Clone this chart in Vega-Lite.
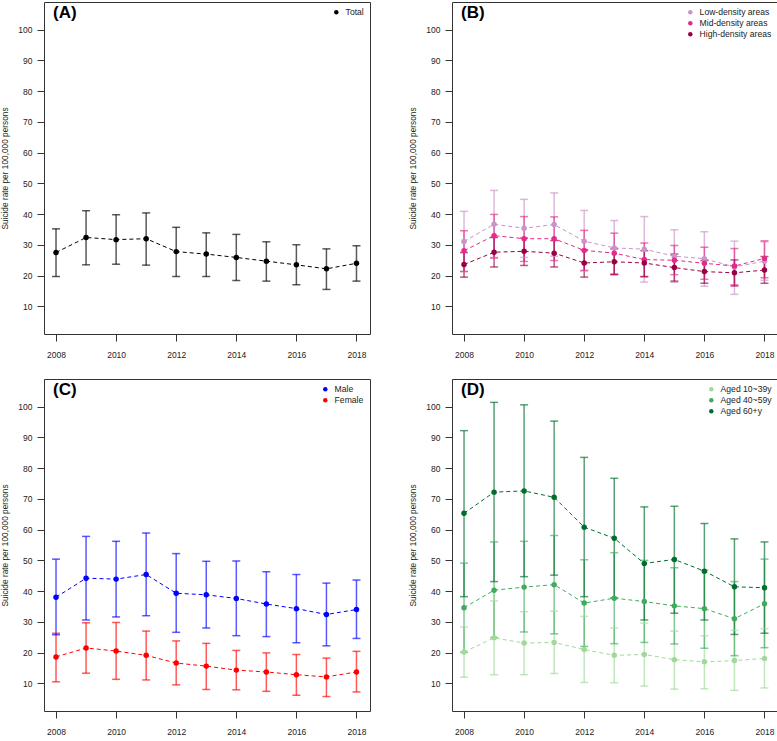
{
  "$schema": "https://vega.github.io/schema/vega-lite/v6.json",
  "description": "Suicide rate per 100,000 persons, 2008-2018, by total, area density, sex and age group, with 95% intervals.",
  "padding": {"left": 0, "top": 1, "right": 0, "bottom": 0},
  "background": "white",
  "config": {
    "font": "Liberation Sans",
    "view": {"stroke": "#333333", "strokeWidth": 1},
    "axis": {
      "domain": false,
      "grid": false,
      "ticks": true,
      "tickSize": 7,
      "tickColor": "#333333",
      "labelColor": "#222222",
      "labelFontSize": 8.5,
      "titleFontSize": 8.3,
      "titleFontWeight": "normal",
      "titleColor": "#222222"
    },
    "axisX": {"labelPadding": 9, "format": "d", "labelFlush": false},
    "axisY": {"labelPadding": 5, "titlePadding": 8},
    "legend": {
      "orient": "top-right",
      "offset": 6,
      "padding": 0,
      "title": null,
      "labelFontSize": 8.6,
      "labelColor": "#222222",
      "symbolType": "circle",
      "symbolSize": 20,
      "symbolStrokeWidth": 0,
      "symbolOpacity": 1,
      "rowPadding": 2,
      "labelOffset": 5
    },
    "title": {
      "anchor": "start",
      "frame": "group",
      "fontSize": 17,
      "fontWeight": "bold",
      "color": "#000000",
      "offset": -20,
      "dx": 9
    }
  },
  "data": {
    "values": [
      {"panel": "A", "group": "Total", "year": 2008, "rate": 27.5, "lo": 19.7, "hi": 35.2},
      {"panel": "A", "group": "Total", "year": 2009, "rate": 32.4, "lo": 23.5, "hi": 41.1},
      {"panel": "A", "group": "Total", "year": 2010, "rate": 31.7, "lo": 23.7, "hi": 39.8},
      {"panel": "A", "group": "Total", "year": 2011, "rate": 32.0, "lo": 23.4, "hi": 40.4},
      {"panel": "A", "group": "Total", "year": 2012, "rate": 27.8, "lo": 19.7, "hi": 35.7},
      {"panel": "A", "group": "Total", "year": 2013, "rate": 27.0, "lo": 19.7, "hi": 33.9},
      {"panel": "A", "group": "Total", "year": 2014, "rate": 25.9, "lo": 18.4, "hi": 33.4},
      {"panel": "A", "group": "Total", "year": 2015, "rate": 24.7, "lo": 18.2, "hi": 31.0},
      {"panel": "A", "group": "Total", "year": 2016, "rate": 23.5, "lo": 17.0, "hi": 30.0},
      {"panel": "A", "group": "Total", "year": 2017, "rate": 22.2, "lo": 15.5, "hi": 28.7},
      {"panel": "A", "group": "Total", "year": 2018, "rate": 24.0, "lo": 18.2, "hi": 29.7},

      {"panel": "B", "group": "Low-density areas", "year": 2008, "rate": 31.1, "lo": 21.4, "hi": 40.9},
      {"panel": "B", "group": "Low-density areas", "year": 2009, "rate": 36.7, "lo": 25.9, "hi": 47.7},
      {"panel": "B", "group": "Low-density areas", "year": 2010, "rate": 35.4, "lo": 25.9, "hi": 44.8},
      {"panel": "B", "group": "Low-density areas", "year": 2011, "rate": 36.6, "lo": 26.3, "hi": 46.9},
      {"panel": "B", "group": "Low-density areas", "year": 2012, "rate": 31.2, "lo": 21.5, "hi": 41.2},
      {"panel": "B", "group": "Low-density areas", "year": 2013, "rate": 29.0, "lo": 20.2, "hi": 37.9},
      {"panel": "B", "group": "Low-density areas", "year": 2014, "rate": 28.6, "lo": 17.9, "hi": 39.2},
      {"panel": "B", "group": "Low-density areas", "year": 2015, "rate": 26.3, "lo": 17.8, "hi": 34.9},
      {"panel": "B", "group": "Low-density areas", "year": 2016, "rate": 25.5, "lo": 16.5, "hi": 34.3},
      {"panel": "B", "group": "Low-density areas", "year": 2017, "rate": 22.8, "lo": 13.9, "hi": 31.2},
      {"panel": "B", "group": "Low-density areas", "year": 2018, "rate": 24.7, "lo": 18.5, "hi": 31.0},
      {"panel": "B", "group": "Mid-density areas", "year": 2008, "rate": 28.1, "lo": 21.3, "hi": 34.6},
      {"panel": "B", "group": "Mid-density areas", "year": 2009, "rate": 33.0, "lo": 25.7, "hi": 39.9},
      {"panel": "B", "group": "Mid-density areas", "year": 2010, "rate": 32.0, "lo": 24.6, "hi": 39.2},
      {"panel": "B", "group": "Mid-density areas", "year": 2011, "rate": 32.0, "lo": 24.9, "hi": 39.1},
      {"panel": "B", "group": "Mid-density areas", "year": 2012, "rate": 28.2, "lo": 21.7, "hi": 34.7},
      {"panel": "B", "group": "Mid-density areas", "year": 2013, "rate": 27.3, "lo": 20.4, "hi": 33.8},
      {"panel": "B", "group": "Mid-density areas", "year": 2014, "rate": 25.2, "lo": 19.6, "hi": 30.6},
      {"panel": "B", "group": "Mid-density areas", "year": 2015, "rate": 25.0, "lo": 20.3, "hi": 29.8},
      {"panel": "B", "group": "Mid-density areas", "year": 2016, "rate": 24.0, "lo": 18.8, "hi": 29.2},
      {"panel": "B", "group": "Mid-density areas", "year": 2017, "rate": 23.1, "lo": 17.0, "hi": 28.8},
      {"panel": "B", "group": "Mid-density areas", "year": 2018, "rate": 25.6, "lo": 19.3, "hi": 31.3},
      {"panel": "B", "group": "High-density areas", "year": 2008, "rate": 23.6, "lo": 19.5, "hi": 27.5},
      {"panel": "B", "group": "High-density areas", "year": 2009, "rate": 27.6, "lo": 22.8, "hi": 32.4},
      {"panel": "B", "group": "High-density areas", "year": 2010, "rate": 27.9, "lo": 23.3, "hi": 32.2},
      {"panel": "B", "group": "High-density areas", "year": 2011, "rate": 27.3, "lo": 22.8, "hi": 31.4},
      {"panel": "B", "group": "High-density areas", "year": 2012, "rate": 24.1, "lo": 19.5, "hi": 28.4},
      {"panel": "B", "group": "High-density areas", "year": 2013, "rate": 24.5, "lo": 20.4, "hi": 28.7},
      {"panel": "B", "group": "High-density areas", "year": 2014, "rate": 24.1, "lo": 19.7, "hi": 28.1},
      {"panel": "B", "group": "High-density areas", "year": 2015, "rate": 22.6, "lo": 18.2, "hi": 27.0},
      {"panel": "B", "group": "High-density areas", "year": 2016, "rate": 21.3, "lo": 17.5, "hi": 24.9},
      {"panel": "B", "group": "High-density areas", "year": 2017, "rate": 20.9, "lo": 16.6, "hi": 25.1},
      {"panel": "B", "group": "High-density areas", "year": 2018, "rate": 21.8, "lo": 17.5, "hi": 26.2},

      {"panel": "C", "group": "Male", "year": 2008, "rate": 38.0, "lo": 25.8, "hi": 50.4},
      {"panel": "C", "group": "Male", "year": 2009, "rate": 44.2, "lo": 30.6, "hi": 57.8},
      {"panel": "C", "group": "Male", "year": 2010, "rate": 43.9, "lo": 31.6, "hi": 56.2},
      {"panel": "C", "group": "Male", "year": 2011, "rate": 45.4, "lo": 32.0, "hi": 58.9},
      {"panel": "C", "group": "Male", "year": 2012, "rate": 39.3, "lo": 26.6, "hi": 52.2},
      {"panel": "C", "group": "Male", "year": 2013, "rate": 38.8, "lo": 28.0, "hi": 49.7},
      {"panel": "C", "group": "Male", "year": 2014, "rate": 37.6, "lo": 25.5, "hi": 49.8},
      {"panel": "C", "group": "Male", "year": 2015, "rate": 35.8, "lo": 25.2, "hi": 46.3},
      {"panel": "C", "group": "Male", "year": 2016, "rate": 34.3, "lo": 23.2, "hi": 45.4},
      {"panel": "C", "group": "Male", "year": 2017, "rate": 32.4, "lo": 22.2, "hi": 42.6},
      {"panel": "C", "group": "Male", "year": 2018, "rate": 34.0, "lo": 24.6, "hi": 43.6},
      {"panel": "C", "group": "Female", "year": 2008, "rate": 18.6, "lo": 10.5, "hi": 26.3},
      {"panel": "C", "group": "Female", "year": 2009, "rate": 21.5, "lo": 13.3, "hi": 29.7},
      {"panel": "C", "group": "Female", "year": 2010, "rate": 20.5, "lo": 11.3, "hi": 29.8},
      {"panel": "C", "group": "Female", "year": 2011, "rate": 19.1, "lo": 11.1, "hi": 27.0},
      {"panel": "C", "group": "Female", "year": 2012, "rate": 16.6, "lo": 9.5, "hi": 23.8},
      {"panel": "C", "group": "Female", "year": 2013, "rate": 15.6, "lo": 8.0, "hi": 23.0},
      {"panel": "C", "group": "Female", "year": 2014, "rate": 14.3, "lo": 7.9, "hi": 20.7},
      {"panel": "C", "group": "Female", "year": 2015, "rate": 13.7, "lo": 7.4, "hi": 19.9},
      {"panel": "C", "group": "Female", "year": 2016, "rate": 12.8, "lo": 6.1, "hi": 19.4},
      {"panel": "C", "group": "Female", "year": 2017, "rate": 12.1, "lo": 5.7, "hi": 18.2},
      {"panel": "C", "group": "Female", "year": 2018, "rate": 13.7, "lo": 7.2, "hi": 20.4},

      {"panel": "D", "group": "Aged 10~39y", "year": 2008, "rate": 20.2, "lo": 12.0, "hi": 28.3},
      {"panel": "D", "group": "Aged 10~39y", "year": 2009, "rate": 24.8, "lo": 12.8, "hi": 36.8},
      {"panel": "D", "group": "Aged 10~39y", "year": 2010, "rate": 23.1, "lo": 12.8, "hi": 33.3},
      {"panel": "D", "group": "Aged 10~39y", "year": 2011, "rate": 23.3, "lo": 13.2, "hi": 33.5},
      {"panel": "D", "group": "Aged 10~39y", "year": 2012, "rate": 21.0, "lo": 10.3, "hi": 31.8},
      {"panel": "D", "group": "Aged 10~39y", "year": 2013, "rate": 19.1, "lo": 10.2, "hi": 28.0},
      {"panel": "D", "group": "Aged 10~39y", "year": 2014, "rate": 19.4, "lo": 9.1, "hi": 29.6},
      {"panel": "D", "group": "Aged 10~39y", "year": 2015, "rate": 17.7, "lo": 8.1, "hi": 27.0},
      {"panel": "D", "group": "Aged 10~39y", "year": 2016, "rate": 17.0, "lo": 8.2, "hi": 25.5},
      {"panel": "D", "group": "Aged 10~39y", "year": 2017, "rate": 17.4, "lo": 7.7, "hi": 27.2},
      {"panel": "D", "group": "Aged 10~39y", "year": 2018, "rate": 18.1, "lo": 8.5, "hi": 27.8},
      {"panel": "D", "group": "Aged 40~59y", "year": 2008, "rate": 34.6, "lo": 20.1, "hi": 49.1},
      {"panel": "D", "group": "Aged 40~59y", "year": 2009, "rate": 40.3, "lo": 24.9, "hi": 56.0},
      {"panel": "D", "group": "Aged 40~59y", "year": 2010, "rate": 41.3, "lo": 26.7, "hi": 56.2},
      {"panel": "D", "group": "Aged 40~59y", "year": 2011, "rate": 42.1, "lo": 26.1, "hi": 58.1},
      {"panel": "D", "group": "Aged 40~59y", "year": 2012, "rate": 36.1, "lo": 22.0, "hi": 50.2},
      {"panel": "D", "group": "Aged 40~59y", "year": 2013, "rate": 37.7, "lo": 22.9, "hi": 52.5},
      {"panel": "D", "group": "Aged 40~59y", "year": 2014, "rate": 36.6, "lo": 23.3, "hi": 50.0},
      {"panel": "D", "group": "Aged 40~59y", "year": 2015, "rate": 35.2, "lo": 22.8, "hi": 47.6},
      {"panel": "D", "group": "Aged 40~59y", "year": 2016, "rate": 34.3, "lo": 21.4, "hi": 46.8},
      {"panel": "D", "group": "Aged 40~59y", "year": 2017, "rate": 31.0, "lo": 19.0, "hi": 43.1},
      {"panel": "D", "group": "Aged 40~59y", "year": 2018, "rate": 35.9, "lo": 21.6, "hi": 50.4},
      {"panel": "D", "group": "Aged 60+y", "year": 2008, "rate": 65.3, "lo": 38.2, "hi": 92.2},
      {"panel": "D", "group": "Aged 60+y", "year": 2009, "rate": 72.2, "lo": 43.1, "hi": 101.4},
      {"panel": "D", "group": "Aged 60+y", "year": 2010, "rate": 72.6, "lo": 44.7, "hi": 100.6},
      {"panel": "D", "group": "Aged 60+y", "year": 2011, "rate": 70.5, "lo": 45.2, "hi": 95.3},
      {"panel": "D", "group": "Aged 60+y", "year": 2012, "rate": 60.8, "lo": 38.2, "hi": 83.5},
      {"panel": "D", "group": "Aged 60+y", "year": 2013, "rate": 57.2, "lo": 37.8, "hi": 76.7},
      {"panel": "D", "group": "Aged 60+y", "year": 2014, "rate": 49.0, "lo": 30.6, "hi": 67.4},
      {"panel": "D", "group": "Aged 60+y", "year": 2015, "rate": 50.3, "lo": 32.8, "hi": 67.6},
      {"panel": "D", "group": "Aged 60+y", "year": 2016, "rate": 46.5, "lo": 30.6, "hi": 62.0},
      {"panel": "D", "group": "Aged 60+y", "year": 2017, "rate": 41.4, "lo": 25.9, "hi": 57.0},
      {"panel": "D", "group": "Aged 60+y", "year": 2018, "rate": 41.1, "lo": 26.3, "hi": 56.0}
    ]
  },
  "columns": 2,
  "spacing": {"row": 19, "column": 37},
  "resolve": {
    "scale": {"color": "independent", "xOffset": "independent"},
    "legend": {"color": "independent"}
  },
  "concat": [
    {
      "width": 326,
      "height": 332,
      "title": "(A)",
      "transform": [{"filter": "datum.panel === 'A'"}],
      "encoding": {
        "x": {"field": "year", "type": "quantitative", "title": null,
              "scale": {"domain": [2007.6, 2018.45], "nice": false, "zero": false},
              "axis": {"values": [2008, 2010, 2012, 2014, 2016, 2018]}},
        "color": {"field": "group", "type": "nominal",
                  "scale": {"domain": ["Total"], "range": ["#000000"]}}
      },
      "layer": [
        {"mark": {"type": "rule", "strokeWidth": 1.5, "opacity": 0.65},
         "encoding": {"y": {"field": "lo", "type": "quantitative", "title": "Suicide rate per 100,000 persons", "scale": {"domain": [1, 109], "nice": false, "zero": false}}, "y2": {"field": "hi"}}},
        {"mark": {"type": "tick", "orient": "horizontal", "size": 8, "thickness": 1.5, "opacity": 0.65},
         "encoding": {"y": {"field": "lo", "type": "quantitative", "title": "Suicide rate per 100,000 persons"}}},
        {"mark": {"type": "tick", "orient": "horizontal", "size": 8, "thickness": 1.5, "opacity": 0.65},
         "encoding": {"y": {"field": "hi", "type": "quantitative", "title": "Suicide rate per 100,000 persons"}}},
        {"mark": {"type": "line", "strokeDash": [4, 3], "strokeWidth": 1},
         "encoding": {"y": {"field": "rate", "type": "quantitative", "title": "Suicide rate per 100,000 persons"}}},
        {"mark": {"type": "point", "filled": true, "size": 30, "opacity": 1},
         "encoding": {"y": {"field": "rate", "type": "quantitative", "title": "Suicide rate per 100,000 persons"}}}
      ]
    },
    {
      "width": 326,
      "height": 332,
      "title": "(B)",
      "transform": [{"filter": "datum.panel === 'B'"}],
      "encoding": {
        "x": {"field": "year", "type": "quantitative", "title": null,
              "scale": {"domain": [2007.6, 2018.45], "nice": false, "zero": false},
              "axis": {"values": [2008, 2010, 2012, 2014, 2016, 2018]}},
        "xOffset": {"field": "group", "type": "nominal",
                    "scale": {"type": "point", "domain": ["Low-density areas", "Mid-density areas", "High-density areas"], "range": [-3.5, 3.5], "padding": 0}},
        "color": {"field": "group", "type": "nominal",
                  "scale": {"domain": ["Low-density areas", "Mid-density areas", "High-density areas"], "range": ["#c994c7", "#e7298a", "#980043"]}}
      },
      "layer": [
        {"mark": {"type": "rule", "strokeWidth": 1.5, "opacity": 0.65},
         "encoding": {"y": {"field": "lo", "type": "quantitative", "title": "Suicide rate per 100,000 persons", "scale": {"domain": [1, 109], "nice": false, "zero": false}}, "y2": {"field": "hi"}}},
        {"mark": {"type": "tick", "orient": "horizontal", "size": 8, "thickness": 1.5, "opacity": 0.65},
         "encoding": {"y": {"field": "lo", "type": "quantitative", "title": "Suicide rate per 100,000 persons"}}},
        {"mark": {"type": "tick", "orient": "horizontal", "size": 8, "thickness": 1.5, "opacity": 0.65},
         "encoding": {"y": {"field": "hi", "type": "quantitative", "title": "Suicide rate per 100,000 persons"}}},
        {"mark": {"type": "line", "strokeDash": [4, 3], "strokeWidth": 1},
         "encoding": {"y": {"field": "rate", "type": "quantitative", "title": "Suicide rate per 100,000 persons"}}},
        {"mark": {"type": "point", "filled": true, "size": 30, "opacity": 1},
         "encoding": {"y": {"field": "rate", "type": "quantitative", "title": "Suicide rate per 100,000 persons"}}}
      ]
    },
    {
      "width": 326,
      "height": 332,
      "title": "(C)",
      "transform": [{"filter": "datum.panel === 'C'"}],
      "encoding": {
        "x": {"field": "year", "type": "quantitative", "title": null,
              "scale": {"domain": [2007.6, 2018.45], "nice": false, "zero": false},
              "axis": {"values": [2008, 2010, 2012, 2014, 2016, 2018]}},
        "color": {"field": "group", "type": "nominal",
                  "scale": {"domain": ["Male", "Female"], "range": ["#0000ff", "#ff0000"]}}
      },
      "layer": [
        {"mark": {"type": "rule", "strokeWidth": 1.5, "opacity": 0.65},
         "encoding": {"y": {"field": "lo", "type": "quantitative", "title": "Suicide rate per 100,000 persons", "scale": {"domain": [1, 109], "nice": false, "zero": false}}, "y2": {"field": "hi"}}},
        {"mark": {"type": "tick", "orient": "horizontal", "size": 8, "thickness": 1.5, "opacity": 0.65},
         "encoding": {"y": {"field": "lo", "type": "quantitative", "title": "Suicide rate per 100,000 persons"}}},
        {"mark": {"type": "tick", "orient": "horizontal", "size": 8, "thickness": 1.5, "opacity": 0.65},
         "encoding": {"y": {"field": "hi", "type": "quantitative", "title": "Suicide rate per 100,000 persons"}}},
        {"mark": {"type": "line", "strokeDash": [4, 3], "strokeWidth": 1},
         "encoding": {"y": {"field": "rate", "type": "quantitative", "title": "Suicide rate per 100,000 persons"}}},
        {"mark": {"type": "point", "filled": true, "size": 30, "opacity": 1},
         "encoding": {"y": {"field": "rate", "type": "quantitative", "title": "Suicide rate per 100,000 persons"}}}
      ]
    },
    {
      "width": 326,
      "height": 332,
      "title": "(D)",
      "transform": [{"filter": "datum.panel === 'D'"}],
      "encoding": {
        "x": {"field": "year", "type": "quantitative", "title": null,
              "scale": {"domain": [2007.6, 2018.45], "nice": false, "zero": false},
              "axis": {"values": [2008, 2010, 2012, 2014, 2016, 2018]}},
        "xOffset": {"field": "group", "type": "nominal",
                    "scale": {"type": "point", "domain": ["Aged 10~39y", "Aged 40~59y", "Aged 60+y"], "range": [-3.5, 3.5], "padding": 0}},
        "color": {"field": "group", "type": "nominal",
                  "scale": {"domain": ["Aged 10~39y", "Aged 40~59y", "Aged 60+y"], "range": ["#a1d99b", "#41ab5d", "#006d2c"]}}
      },
      "layer": [
        {"mark": {"type": "rule", "strokeWidth": 1.5, "opacity": 0.65},
         "encoding": {"y": {"field": "lo", "type": "quantitative", "title": "Suicide rate per 100,000 persons", "scale": {"domain": [1, 109], "nice": false, "zero": false}}, "y2": {"field": "hi"}}},
        {"mark": {"type": "tick", "orient": "horizontal", "size": 8, "thickness": 1.5, "opacity": 0.65},
         "encoding": {"y": {"field": "lo", "type": "quantitative", "title": "Suicide rate per 100,000 persons"}}},
        {"mark": {"type": "tick", "orient": "horizontal", "size": 8, "thickness": 1.5, "opacity": 0.65},
         "encoding": {"y": {"field": "hi", "type": "quantitative", "title": "Suicide rate per 100,000 persons"}}},
        {"mark": {"type": "line", "strokeDash": [4, 3], "strokeWidth": 1},
         "encoding": {"y": {"field": "rate", "type": "quantitative", "title": "Suicide rate per 100,000 persons"}}},
        {"mark": {"type": "point", "filled": true, "size": 30, "opacity": 1},
         "encoding": {"y": {"field": "rate", "type": "quantitative", "title": "Suicide rate per 100,000 persons"}}}
      ]
    }
  ]
}
